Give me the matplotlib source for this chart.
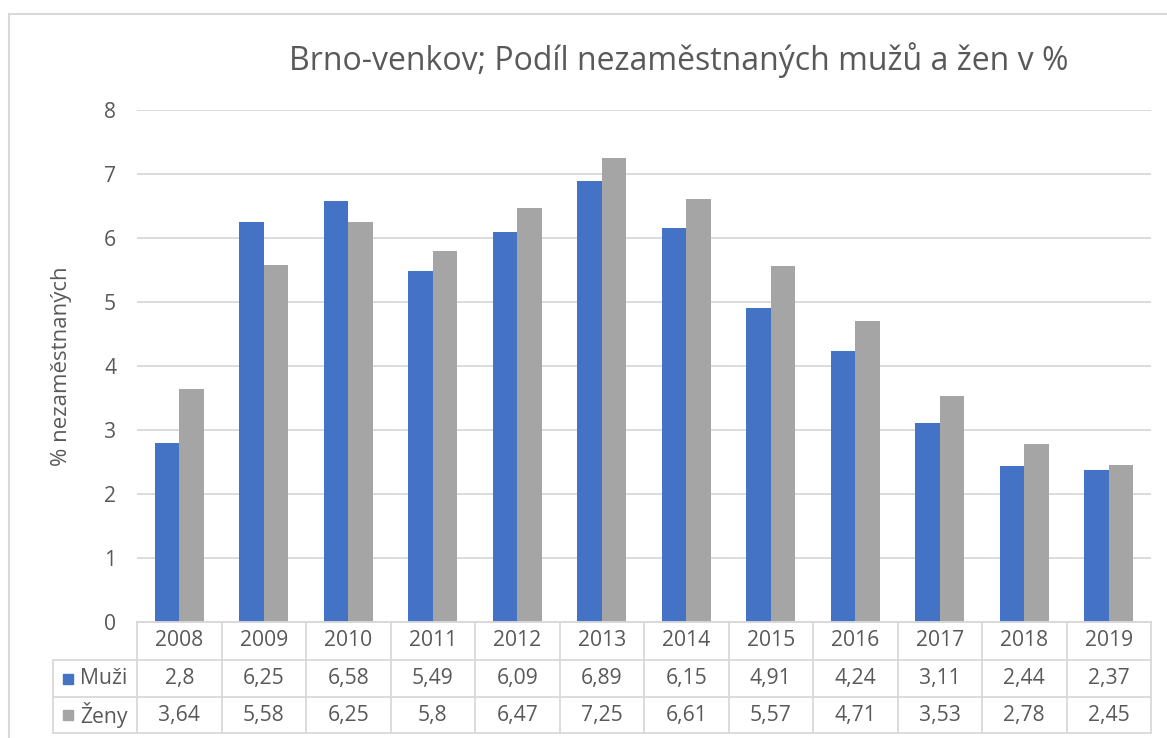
import matplotlib
matplotlib.use("Agg")
import matplotlib.pyplot as plt
from matplotlib.transforms import blended_transform_factory
from matplotlib.patches import Rectangle
from matplotlib.lines import Line2D

years = ["2008", "2009", "2010", "2011", "2012", "2013", "2014", "2015", "2016", "2017", "2018", "2019"]
muzi = [2.8, 6.25, 6.58, 5.49, 6.09, 6.89, 6.15, 4.91, 4.24, 3.11, 2.44, 2.37]
zeny = [3.64, 5.58, 6.25, 5.8, 6.47, 7.25, 6.61, 5.57, 4.71, 3.53, 2.78, 2.45]
series_names = ["Muži", "Ženy"]
title = "Brno-venkov; Podíl nezaměstnaných mužů a žen v %"
ylabel = "% nezaměstnaných"

BLUE = "#4472C4"
GREY = "#A5A5A5"
GRID = "#D9D9D9"
TXT = "#595959"
FONT = ["Open Sans", "DejaVu Sans"]
plt.rcParams["font.family"] = FONT
FS = 15.2

W, H = 1167, 738
fig = plt.figure(figsize=(W / 100, H / 100), dpi=100)

def fx(px):
    return px / W

def fy(py):
    return 1 - py / H

left, right, top, bottom = 137, 1151, 110, 622
ax = fig.add_axes([fx(left), fy(bottom), fx(right - left), fy(top) - fy(bottom)])

n = len(years)
xs = list(range(n))
bw = 0.288
ax.bar([x - bw / 2 for x in xs], muzi, width=bw, color=BLUE, zorder=3)
ax.bar([x + bw / 2 for x in xs], zeny, width=bw, color=GREY, zorder=3)
ax.set_xlim(-0.5, n - 0.5)
ax.set_ylim(0, 8)
ax.set_yticks(range(0, 9))
ax.yaxis.grid(True, color=GRID, linewidth=1.3, zorder=0)
ax.set_xticks([])
for s in ["top", "right", "left"]:
    ax.spines[s].set_visible(False)
ax.spines["bottom"].set_color(GRID)
ax.spines["bottom"].set_linewidth(1.3)
ax.tick_params(axis="y", length=0, pad=15, labelsize=FS, labelcolor=TXT)

fig.text(fx(62), fy(366), ylabel, rotation=90, ha="center", va="center", fontsize=16, color=TXT)
fig.text(fx(679), fy(60), title, ha="center", va="center", fontsize=23, color=TXT)

# data table
tr = blended_transform_factory(ax.transData, fig.transFigure)
row_y = [622, 660, 697, 733]
x_leg = -0.5 + (53 - left) / ((right - left) / n)
lw = 1.3
fig.add_artist(Line2D([-0.5, n - 0.5], [fy(row_y[0])] * 2, transform=tr, color=GRID, lw=lw))
for yy in row_y[1:]:
    fig.add_artist(Line2D([x_leg, n - 0.5], [fy(yy)] * 2, transform=tr, color=GRID, lw=lw))
for i in range(n + 1):
    fig.add_artist(Line2D([i - 0.5, i - 0.5], [fy(row_y[0]), fy(row_y[3])], transform=tr, color=GRID, lw=lw))
fig.add_artist(Line2D([x_leg, x_leg], [fy(row_y[1]), fy(row_y[3])], transform=tr, color=GRID, lw=lw))

def mid(a, b):
    return fy((a + b) / 2)

for i, yv in enumerate(years):
    fig.text(i, mid(row_y[0], row_y[1]), yv, transform=tr, ha="center", va="center", fontsize=FS, color=TXT)
for r, (vals, col, name) in enumerate([(muzi, BLUE, series_names[0]), (zeny, GREY, series_names[1])]):
    yc = mid(row_y[r + 1], row_y[r + 2])
    for i, v in enumerate(vals):
        fig.text(i, yc, f"{v:g}".replace(".", ","), transform=tr, ha="center", va="center", fontsize=FS, color=TXT)
    fig.add_artist(Rectangle((fx(63), yc - 5 / H), 10 / W, 10 / H, transform=fig.transFigure, color=col))
    fig.text(fx(80), yc, name, ha="left", va="center", fontsize=FS, color=TXT)

# outer chart border
fig.add_artist(Line2D([fx(9), fx(9)], [fy(14), 0], transform=fig.transFigure, color=GRID, lw=1.5))
fig.add_artist(Line2D([fx(9), 1], [fy(14), fy(14)], transform=fig.transFigure, color=GRID, lw=1.5))

fig.savefig("out.png", dpi=100)
